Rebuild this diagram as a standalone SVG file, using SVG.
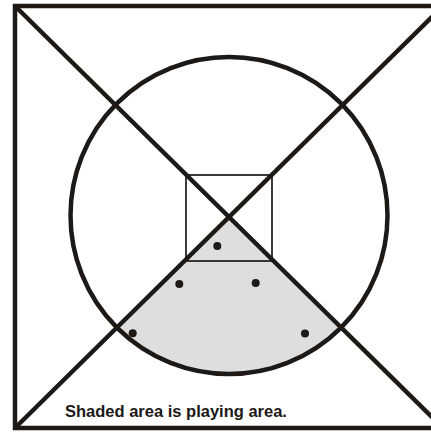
<svg xmlns="http://www.w3.org/2000/svg" width="431" height="432" viewBox="0 0 431 432">
<style>
.ln{stroke:#1c1917;fill:none;stroke-width:4.5}
.dot{fill:#1c1917}
.lbl{font-family:"Liberation Sans",Arial,sans-serif;font-weight:bold;font-size:16.5px;fill:#1c1917}
</style>
<rect width="431" height="432" fill="#fff"/>
<g id="playing-area">
<path d="M229,217 L118.6,328.2 A158.5,158.5 0 0 0 339.4,328.2 Z" fill="#dedede"/>
</g>
<g id="outer-square">
<rect class="ln" x="15" y="6" width="428" height="422"/>
</g>
<g id="circle">
<circle class="ln" cx="229" cy="215.5" r="158.5" stroke-width="4"/>
</g>
<g id="inner-square">
<rect x="186" y="175" width="86" height="86" fill="none" stroke="#1c1917" stroke-width="1.7"/>
</g>
<g id="connectors">
<line class="ln" x1="15" y1="6" x2="443" y2="428"/>
<line class="ln" x1="15" y1="428" x2="443" y2="6"/>
</g>
<g id="dots">
<circle class="dot" cx="217.3" cy="246" r="4"/>
<circle class="dot" cx="179.3" cy="284" r="4"/>
<circle class="dot" cx="255.7" cy="283" r="4"/>
<circle class="dot" cx="132.7" cy="333.3" r="4"/>
<circle class="dot" cx="305" cy="333.5" r="4"/>
</g>
<g id="label">
<text class="lbl" x="65" y="417">Shaded area is playing area.</text>
</g>
</svg>
